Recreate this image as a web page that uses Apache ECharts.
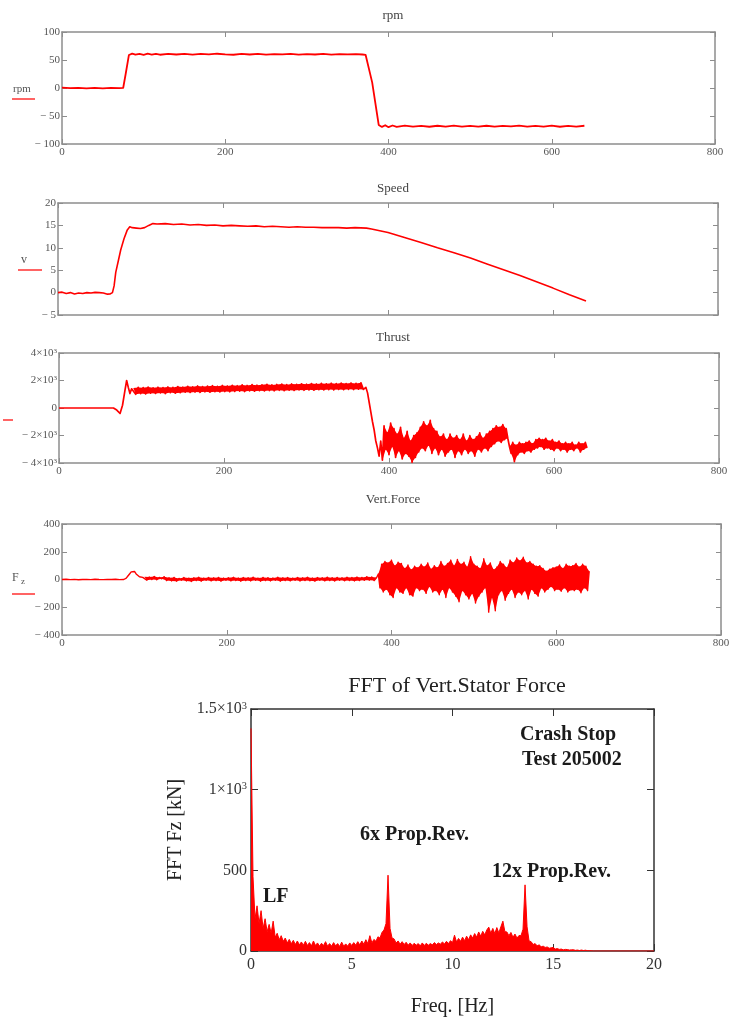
<!DOCTYPE html>
<html>
<head>
<meta charset="utf-8">
<title>Crash stop test</title>
<script src="https://cdn.jsdelivr.net/npm/echarts@6/dist/echarts.min.js"></script>
<style>
  html, body { margin: 0; padding: 0; background: #fff; }
  #chart { width: 742px; height: 1024px; }
</style>
</head>
<body>
<div id="chart"></div>
<script>
// ---- data ----
const timeTicks = [0, 200, 400, 600, 800]
const rpmTicks = [-100, -50, 0, 50, 100]
const speedTicks = [-5, 0, 5, 10, 15, 20]
const thrustTicks = [-4000, -2000, 0, 2000, 4000]
const fzTicks = [-400, -200, 0, 200, 400]
const freqTicks = [0, 5, 10, 15, 20]
const fftTicks = [0, 500, 1000, 1500]

// [time s, rpm]
const rpmPoints = [[0,0.5],[10,-0.3],[20,0.4],[30,-0.5],[40,0.2],[50,-0.6],[60,0.3],[70,-0.2],[75,0.4],
  [78,25],[82,59],[86,61.5],[90,59.5],[95,61],[100,59.2],[105,61.2],[110,59.6],[115,60.9],[120,59.4],
  [130,61.1],[140,59.8],[150,61],[160,59.5],[170,60.8],[180,59.9],[190,61.2],[200,60.1],[210,59.4],
  [220,60.9],[230,59.8],[240,61],[250,59.5],[260,60.6],[270,59.9],[280,60.8],[290,59.6],[300,60.5],
  [310,59.8],[320,60.8],[330,59.7],[340,60.4],[350,59.9],[360,60.6],[368,59.8],[372,59],[380,10],
  [388,-66],[392,-69.5],[396,-66.5],[400,-70],[405,-67],[410,-69.5],[420,-67.2],[430,-69],[440,-67.5],
  [450,-69.2],[460,-67.4],[470,-68.8],[480,-67.3],[490,-69.1],[500,-67.6],[510,-68.9],[520,-67.4],
  [530,-69],[540,-67.5],[550,-68.7],[560,-67.2],[570,-69.1],[580,-67.6],[590,-68.9],[600,-67.3],
  [610,-69.2],[620,-67.5],[630,-68.8],[640,-67.4]]

// [time s, knots]
const speedPoints = [[0,0],[5,0.1],[10,-0.2],[15,0],[20,-0.3],[25,-0.1],[30,-0.2],[35,0],[40,-0.1],
  [45,0.05],[50,0],[55,-0.1],[60,-0.35],[63,-0.3],[66,0],[68,1.5],[70,4.5],[73,7],[76,9.5],[80,12],
  [84,14],[87,14.7],[90,14.5],[95,14.4],[100,14.3],[105,14.5],[110,15],[115,15.4],[120,15.3],[130,15.4],
  [140,15.2],[150,15.3],[160,15.1],[170,15.2],[180,15],[190,15.1],[200,14.9],[210,15],[220,14.9],
  [230,14.8],[240,14.9],[250,14.7],[260,14.8],[270,14.7],[280,14.6],[290,14.7],[300,14.6],[310,14.6],
  [320,14.5],[330,14.5],[340,14.5],[350,14.4],[360,14.5],[374,14.4],[380,14.2],[400,13.4],[420,12.3],
  [440,11.2],[460,10],[480,8.9],[500,7.7],[520,6.4],[540,5.1],[560,3.8],[580,2.4],[600,1],[620,-0.5],
  [640,-1.9]]

// thrust: start-up as [t, v], then sampled blocks
const thrustStart = [[0,0],[20,0],[40,0],[60,0],[66,0],[70,-150],[74,-400],[77,200],[80,1300],[82,2000],
  [84,1500],[86,1050],[88,1400]]
// every 3 s from 90 s
const thrustPlateau = [1450,1000,1500,1050,1480,1020,1520,1080,1470,1060,
  1510,1100,1490,1050,1530,1120,1500,1080,1560,1110,
  1520,1150,1580,1130,1540,1160,1600,1140,1560,1180,
  1590,1150,1620,1190,1580,1170,1640,1200,1600,1180,
  1650,1210,1620,1230,1680,1200,1640,1250,1700,1220,
  1660,1260,1690,1240,1720,1270,1680,1250,1710,1290,
  1740,1260,1700,1300,1750,1280,1720,1310,1760,1290,
  1730,1320,1780,1300,1750,1330,1790,1310,1760,1340,
  1800,1320,1770,1350,1810,1330,1780,1360,1820,1340,
  1790,1370,1830,1350]
// every 2 s from 372 s
const thrustCrash = [1500,1100,400,-300,-1000,-1600,-2400,-2900,-3500,-2400,
  -3800,-1300,-3000,-1800,-3400,-1100,-2800,-1500,-3600,-1900,
  -3100,-1400,-3700,-2200,-3300,-1700,-3500,-2400,-3950,-2000,
  -3600,-1800,-3200,-1400,-2900,-1000,-3100,-1300,-2700,-900,
  -3300,-1500,-2900,-1700,-3400,-2100,-3000,-1900,-3500,-2300,
  -3200,-1900,-3000,-2200,-3600,-2000,-3100,-2300,-3400,-1900,
  -3000,-2400,-3300,-2000,-3100,-2300,-3500,-2100,-3000,-1800,
  -3200,-2200,-2900,-1900,-3100,-1700,-2800,-1500,-2600,-1300,
  -2400,-1400,-2500,-1200,-2300,-1500,-2200,-2800,-3300,-2500,
  -3900,-2700,-3400,-2500,-3200,-2600,-3300,-2500,-3100,-2400,
  -3200,-2600,-3000,-2300,-2900,-2200,-2800,-2300,-3000,-2200,
  -2900,-2400,-3000,-2300,-3100,-2500,-2900,-2400,-3100,-2600,
  -3000,-2500,-3200,-2600,-3000,-2500,-3100,-2700,-2900,-2500,
  -3200,-2600,-3000,-2500,-2900]

// vertical force
const fzStart = [[0,0],[5,2],[10,-1],[15,1],[20,-2],[25,0],[30,1],[35,-1],[40,2],[45,0],[50,-1],[55,1],
  [60,0],[65,2],[70,-1],[75,0],[78,10],[80,25],[82,40],[84,55],[86,45],[88,58],[90,40],[92,35],[94,20],
  [96,25],[98,15]]
// every 3 s from 100 s
const fzQuiet = [20,-5,18,0,22,-2,15,5,20,-8,
  12,-10,15,-12,8,-5,14,-10,10,-14,
  12,-8,16,-12,10,-6,14,-10,12,-8,
  15,-12,10,-5,13,-10,16,-7,11,-12,
  14,-8,12,-10,17,-6,10,-12,15,-8,
  13,-10,11,-6,16,-12,12,-8,14,-10,
  10,-5,15,-11,12,-7,16,-9,11,-12,
  14,-6,12,-10,17,-8,13,-11,15,-6,
  12,-9,16,-7,14,-10,18,-8,15,-6,
  20,-5,18,-8,14]
// every 2 s from 384 s
const fzCrash = [40,-60,110,-90,130,-70,120,-110,140,-130,
  100,-60,125,-90,115,-100,80,-60,105,-110,
  70,-120,95,-60,85,-80,110,-70,90,-100,
  120,-50,75,-90,100,-80,85,-110,130,-70,
  95,-130,115,-60,140,-90,100,-120,145,-160,
  110,-80,125,-110,90,-140,165,-100,110,-170,
  95,-120,80,-90,150,-60,100,-235,120,-130,
  70,-225,90,-110,130,-80,110,-150,85,-100,
  140,-70,120,-130,155,-90,135,-110,160,-80,
  120,-140,130,-70,110,-100,95,-120,100,-60,
  80,-90,60,-70,75,-50,85,-80,90,-70,
  105,-85,80,-60,110,-90,95,-75,100,-80,
  115,-70,90,-95,110,-60,95,-80,60]

// FFT amplitude, every 0.1 Hz from 0 Hz
const fftAmp = [1380,460,200,280,170,250,140,200,120,165,
  110,185,85,110,70,95,60,80,50,72,
  45,66,40,62,38,56,36,60,34,52,
  32,62,34,50,30,48,34,58,30,46,
  30,52,32,46,28,55,30,44,30,50,
  34,52,36,58,38,62,42,70,46,95,
  50,72,60,88,80,115,130,170,470,140,
  80,75,50,62,42,58,40,54,36,50,
  34,48,36,46,32,50,34,48,36,46,
  38,52,40,50,42,56,44,60,46,64,
  52,98,56,78,60,86,64,92,70,100,
  80,108,86,118,92,122,100,130,148,110,
  140,108,145,112,150,185,120,118,95,115,
  85,105,80,96,95,135,410,150,62,58,
  40,46,32,38,26,30,22,25,17,20,
  22,12,15,10,12,7,10,9,6,7,
  8,4,6,3,6,3,5,2,2,1,0]
const fftEnd = [20, 0]

// ---- build chart ----
function sampled (arr, t0, dt) {
  return arr.map((v, i) => [+(t0 + i * dt).toFixed(2), v])
}
const thrustPlateauPts = sampled(thrustPlateau, 90, 3)
const thrustCrashPts = sampled(thrustCrash, 372, 2)
const fzQuietPts = sampled(fzQuiet, 100, 3)
const fzCrashPts = sampled(fzCrash, 384, 2)

const rpmData = rpmPoints
const speedData = speedPoints
const thrustData = thrustStart.concat(thrustPlateauPts, thrustCrashPts)
const fzData = fzStart.concat(fzQuietPts, fzCrashPts)
const fftData = sampled(fftAmp, 0, 0.1).concat([fftEnd])

const grey = '#8d8d8d'
const serif = '"Liberation Serif", "DejaVu Serif", serif'
const minus = v => v < 0 ? '\u2212 ' + Math.abs(v) : String(v)
const pow3 = v => {
  if (v === 0) return '0'
  return (v < 0 ? '\u2212 ' : '') + Math.abs(v) / 1000 + '\u00d710{s|3}'
}
const fftFmt = v => v >= 1000 ? (v / 1000) + '\u00d710{s|3}' : String(v)

let grids = [
  { left: 62, top: 32, width: 653, height: 112 },
  { left: 58, top: 203, width: 660, height: 112 },
  { left: 59, top: 353, width: 660, height: 110 },
  { left: 62, top: 524, width: 659, height: 111 },
  { left: 251, top: 709, width: 403, height: 242 }
]

let xAxis = []
let yAxis = []

function addAxes (gi, xt, yt, cfg) {
  let lineStyle = { color: cfg.color, width: cfg.width }
  let tick = { show: true, inside: true, length: cfg.tickLen, lineStyle: { color: cfg.color, width: 1 } }
  let label = {
    color: cfg.labelColor, fontFamily: serif, fontSize: cfg.fontSize,
    rich: { s: { fontSize: cfg.fontSize * 0.65, fontFamily: serif, color: cfg.labelColor, verticalAlign: 'top' } }
  }
  let xBase = { gridIndex: gi, type: 'value', min: xt[0], max: xt[xt.length - 1], interval: xt[1] - xt[0],
    splitLine: { show: false }, axisLine: { onZero: false, lineStyle: lineStyle }, axisTick: tick }
  let yBase = { gridIndex: gi, type: 'value', min: yt[0], max: yt[yt.length - 1], interval: yt[1] - yt[0],
    splitLine: { show: false }, axisLine: { onZero: false, lineStyle: lineStyle }, axisTick: tick }
  xAxis.push(Object.assign({}, xBase, {
    position: 'bottom',
    axisLabel: Object.assign({ show: cfg.xLabels, margin: cfg.xMargin }, label),
    name: cfg.xName || '', nameLocation: 'middle', nameGap: cfg.xNameGap,
    nameTextStyle: { fontFamily: serif, fontSize: 20, color: '#222' }
  }))
  xAxis.push(Object.assign({}, xBase, { position: 'top', axisLabel: { show: false } }))
  yAxis.push(Object.assign({}, yBase, {
    position: 'left',
    axisLabel: Object.assign({ margin: cfg.yMargin, formatter: cfg.yFmt }, label),
    name: cfg.yName || '', nameLocation: 'middle', nameGap: cfg.yNameGap,
    nameTextStyle: { fontFamily: serif, fontSize: 20, color: '#222' }
  }))
  yAxis.push(Object.assign({}, yBase, { position: 'right', axisLabel: { show: false } }))
}

let small = { color: grey, width: 1.5, tickLen: 5, labelColor: '#555', fontSize: 11, xMargin: 3, yMargin: 2 }
addAxes(0, timeTicks, rpmTicks, Object.assign({}, small, { xLabels: true, yFmt: minus }))
addAxes(1, timeTicks, speedTicks, Object.assign({}, small, { xLabels: false, yFmt: minus }))
addAxes(2, timeTicks, thrustTicks, Object.assign({}, small, { xLabels: true, yFmt: pow3 }))
addAxes(3, timeTicks, fzTicks, Object.assign({}, small, { xLabels: true, yFmt: minus }))
addAxes(4, freqTicks, fftTicks, {
  color: '#333', width: 1.5, tickLen: 7, labelColor: '#333', fontSize: 16, xMargin: 6, yMargin: 4,
  xLabels: true, yFmt: fftFmt, xName: 'Freq. [Hz]', xNameGap: 46, yName: 'FFT Fz [kN]', yNameGap: 34
})

function lineSeries (gi, data, width, extra) {
  return Object.assign({
    type: 'line', xAxisIndex: gi * 2, yAxisIndex: gi * 2, data: data,
    showSymbol: false, symbol: 'none', silent: true, animation: false,
    lineStyle: { color: '#ff0000', width: width, join: 'round' }
  }, extra || {})
}

// solid band between the alternating high / low samples of a noisy block
function bandSeries (gi, pts) {
  return {
    type: 'custom', xAxisIndex: gi * 2, yAxisIndex: gi * 2, data: [[pts[0][0], pts[0][1]]],
    silent: true, animation: false, clip: true,
    renderItem: function (params, api) {
      let a = [], b = []
      pts.forEach((p, i) => { (i % 2 ? b : a).push(api.coord(p)) })
      return { type: 'polygon', shape: { points: a.concat(b.reverse()) }, style: { fill: '#ff0000' } }
    }
  }
}

const titleStyle = { fontFamily: serif, fontSize: 13, fontWeight: 'normal', color: '#444' }

function ann (text, x, y) {
  return { type: 'text', x: x, y: y, silent: true,
    style: { text: text, textAlign: 'left', textVerticalAlign: 'middle',
      font: 'bold 20px ' + serif, fill: '#1a1a1a' } }
}
function key (x1, x2, y) {
  return { type: 'line', silent: true, shape: { x1: x1, y1: y, x2: x2, y2: y },
    style: { stroke: '#ff3030', lineWidth: 1.5 } }
}
function keyText (text, x, y, size) {
  return { type: 'text', x: x, y: y, silent: true,
    style: { text: text, textAlign: 'left', textVerticalAlign: 'middle', font: size + 'px ' + serif, fill: '#555' } }
}

let option = {
  backgroundColor: '#fff',
  animation: false,
  title: [
    { text: 'rpm', left: 388, top: 4, textAlign: 'center', textStyle: titleStyle },
    { text: 'Speed', left: 388, top: 177, textAlign: 'center', textStyle: titleStyle },
    { text: 'Thrust', left: 388, top: 326, textAlign: 'center', textStyle: titleStyle },
    { text: 'Vert.Force', left: 388, top: 488, textAlign: 'center', textStyle: titleStyle },
    { text: 'FFT of Vert.Stator Force', left: 452, top: 670, textAlign: 'center',
      textStyle: { fontFamily: serif, fontSize: 22, fontWeight: 'normal', color: '#222' } }
  ],
  grid: grids,
  xAxis: xAxis,
  yAxis: yAxis,
  series: [
    lineSeries(0, rpmData, 1.8),
    lineSeries(1, speedData, 1.6),
    bandSeries(2, thrustPlateauPts),
    bandSeries(2, thrustCrashPts.slice(10)),
    lineSeries(2, thrustData, 1.7),
    bandSeries(3, fzQuietPts),
    bandSeries(3, fzCrashPts),
    lineSeries(3, fzData, 1.4),
    lineSeries(4, fftData, 1, { areaStyle: { color: '#ff0000', opacity: 1 } })
  ],
  graphic: [
    keyText('rpm', 13, 89, 11), key(12, 35, 99),
    keyText('v', 21, 260, 12), key(18, 42, 270),
    key(3, 13, 420),
    keyText('F', 12, 578, 12), keyText('z', 21, 582, 9), key(12, 35, 594),
    ann('Crash Stop', 520, 735),
    ann('Test 205002', 522, 760),
    ann('6x Prop.Rev.', 360, 835),
    ann('12x Prop.Rev.', 492, 872),
    ann('LF', 263, 897)
  ]
}

let myChart = echarts.init(document.getElementById('chart'), null, { renderer: 'canvas' })
myChart.setOption(option, true)
</script>
</body>
</html>
